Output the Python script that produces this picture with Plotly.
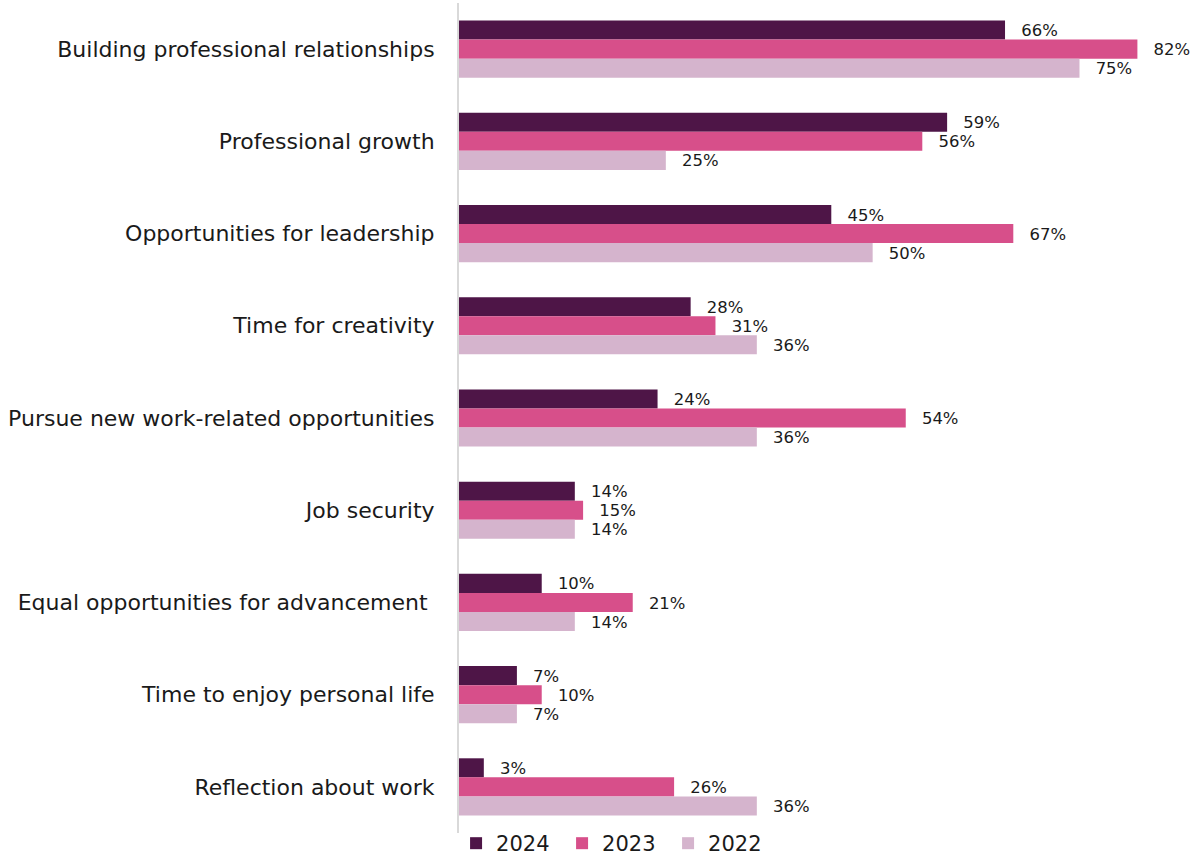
import plotly.graph_objects as go

categories = [
    "Building professional relationships",
    "Professional growth",
    "Opportunities for leadership",
    "Time for creativity",
    "Pursue new work-related opportunities",
    "Job security",
    "Equal opportunities for advancement\u00a0",
    "Time to enjoy personal life",
    "Reflection about work",
]
years = ["2024", "2023", "2022"]
values_2024 = [66, 59, 45, 28, 24, 14, 10, 7, 3]
values_2023 = [82, 56, 67, 31, 54, 15, 21, 10, 26]
values_2022 = [75, 25, 50, 36, 36, 14, 14, 7, 36]
colors = ["#4E1547", "#D74F8A", "#D5B4CD"]

FONT = "DejaVu Sans"

fig = go.Figure()
for name, vals, col in zip(years, [values_2024, values_2023, values_2022], colors):
    fig.add_trace(go.Bar(
        y=categories,
        x=vals,
        name=name,
        orientation="h",
        marker=dict(color=col, line=dict(width=0)),
        text=[f"\u2002\u2009\u200a{v}%" for v in vals],
        textposition="outside",
        textfont=dict(family=FONT, size=19, color="#1a1a1a"),
        cliponaxis=False,
    ))

fig.update_layout(
    width=1192,
    height=855,
    margin=dict(l=459, r=0, t=3, b=22, autoexpand=False),
    paper_bgcolor="white",
    plot_bgcolor="white",
    barmode="group",
    bargap=0.38,
    bargroupgap=0,
    font=dict(family=FONT, size=20, color="#1a1a1a"),
    showlegend=True,
    legend=dict(
        orientation="h",
        x=-0.004,
        xanchor="left",
        y=0.012,
        yanchor="top",
        bgcolor="rgba(0,0,0,0)",
        font=dict(family=FONT, size=21, color="#1a1a1a"),
        itemwidth=30,
        entrywidth=61,
        tracegroupgap=0,
    ),
    xaxis=dict(
        range=[0, 88.6],
        showgrid=False,
        zeroline=False,
        showticklabels=False,
        showline=False,
        fixedrange=True,
    ),
    yaxis=dict(
        autorange="reversed",
        showgrid=False,
        showline=True,
        linecolor="#d9d9d9",
        linewidth=2,
        ticks="",
        ticklabelstandoff=18,
        tickfont=dict(family=FONT, size=22, color="#1a1a1a"),
    ),
)

fig.write_html("out.html")
